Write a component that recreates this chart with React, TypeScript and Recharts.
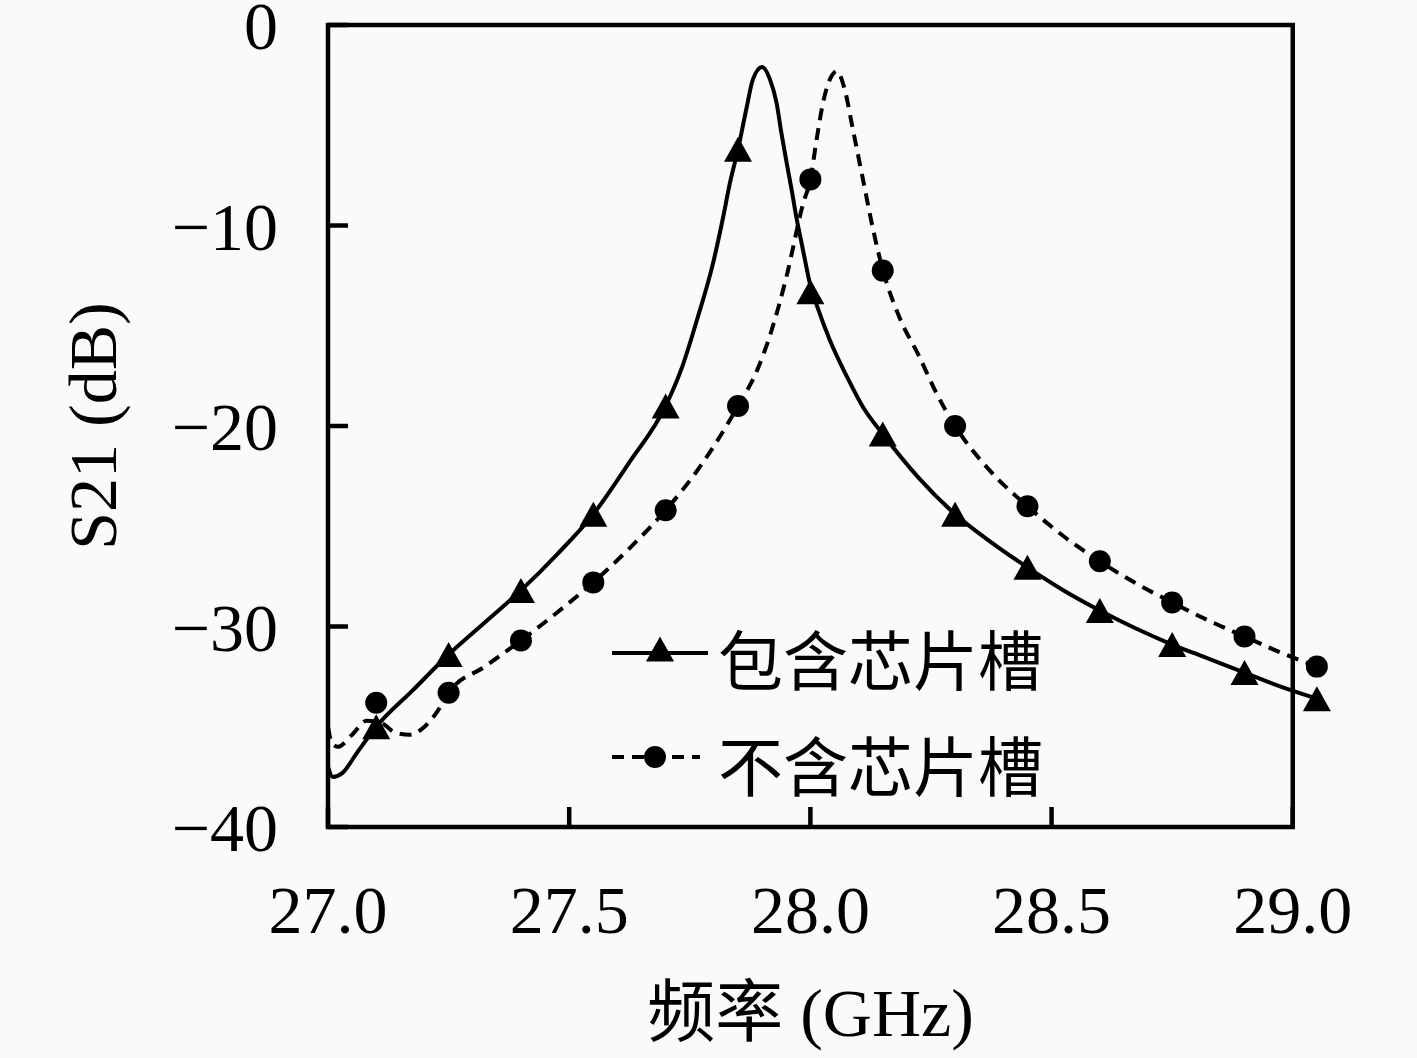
import { ComposedChart, Line, Scatter, XAxis, YAxis, ReferenceArea, Legend, Label } from 'recharts'

// frequency (GHz) / S21 (dB)
const SOLID_F = [27.0, 27.01, 27.03, 27.06, 27.1, 27.175, 27.25, 27.325, 27.4, 27.475, 27.55, 27.625, 27.7, 27.735, 27.765, 27.798, 27.819, 27.833, 27.85, 27.868, 27.881, 27.9, 27.916, 27.93, 27.94, 27.951, 27.961, 27.971, 27.982, 27.992, 28.0, 28.015, 28.04, 28.076, 28.109, 28.15, 28.225, 28.3, 28.375, 28.45, 28.525, 28.6, 28.675, 28.75, 28.825, 28.9, 28.975, 29.05]
const SOLID_V = [-37.0, -37.5, -37.3, -36.3, -35.0, -33.2, -31.4, -29.8, -28.2, -26.4, -24.4, -21.8, -19.0, -17.0, -14.7, -11.9, -9.6, -7.9, -6.2, -4.1, -2.7, -2.1, -2.7, -3.9, -5.4, -6.9, -8.2, -9.6, -10.9, -12.1, -13.0, -14.1, -15.7, -17.55, -19.05, -20.4, -22.6, -24.4, -25.8, -27.05, -28.2, -29.2, -30.1, -30.9, -31.6, -32.3, -33.0, -33.6]

const DASH_F = [27.0, 27.008, 27.02, 27.05, 27.08, 27.11, 27.14, 27.17, 27.2, 27.225, 27.25, 27.325, 27.4, 27.475, 27.55, 27.625, 27.7, 27.775, 27.85, 27.89, 27.92, 27.95, 27.985, 28.0, 28.013, 28.026, 28.045, 28.055, 28.071, 28.088, 28.109, 28.13, 28.15, 28.185, 28.225, 28.26, 28.3, 28.375, 28.45, 28.525, 28.6, 28.675, 28.75, 28.825, 28.9, 28.975, 29.05]
const DASH_V = [-35.0, -35.8, -36.0, -35.4, -34.7, -34.8, -35.3, -35.4, -35.0, -34.3, -33.3, -32.0, -30.7, -29.3, -27.8, -26.1, -24.2, -21.9, -19.0, -17.2, -15.2, -12.6, -8.9, -7.7, -5.7, -3.9, -2.5, -2.3, -3.2, -5.2, -7.7, -10.2, -12.2, -14.6, -16.5, -18.3, -20.0, -22.3, -24.0, -25.5, -26.75, -27.85, -28.8, -29.7, -30.5, -31.3, -32.0]

const MARK_F = [27.1, 27.25, 27.4, 27.55, 27.7, 27.85, 28.0, 28.15, 28.3, 28.45, 28.6, 28.75, 28.9, 29.05]
const TRI_V = [-35.0, -31.4, -28.2, -24.4, -19.0, -6.2, -13.3, -20.4, -24.4, -27.05, -29.2, -30.9, -32.3, -33.6]
const DOT_V = [-33.8, -33.3, -30.7, -27.8, -24.2, -19.0, -7.7, -12.25, -20.0, -24.0, -26.75, -28.8, -30.5, -32.0]

const X_TICKS = [27.0, 27.5, 28.0, 28.5, 29.0]
const Y_TICKS = [-40, -30, -20, -10, 0]

const SERIES_1 = '包含芯片槽'
const SERIES_2 = '不含芯片槽'

const toRows = (fs: number[], vs: number[]) => fs.map((f, i) => ({ f, v: vs[i] }))

const solidRows = toRows(SOLID_F, SOLID_V)
const dashRows = toRows(DASH_F, DASH_V)
const triRows = toRows(MARK_F, TRI_V)
const dotRows = toRows(MARK_F, DOT_V)

const SERIF = "'Liberation Serif', 'Noto Sans CJK SC', serif"
const CJK = "'Noto Sans CJK SC', sans-serif"
const DASH = '12 8'
const LW = 4

const Tri = (p: any) => (
  <polygon points={`${p.cx},${p.cy - 12.5} ${p.cx - 14},${p.cy + 12.5} ${p.cx + 14},${p.cy + 12.5}`} fill="#000" />
)
const Dot = (p: any) => <circle cx={p.cx} cy={p.cy} r={11} fill="#000" />

function LegendBox() {
  return (
    <svg width={460} height={230}>
      <line x1={12} y1={53} x2={108} y2={53} stroke="#000" strokeWidth={LW} />
      <Tri cx={60} cy={49} />
      <text x={118} y={57} fontSize={65} fontFamily={CJK} dominantBaseline="central">{SERIES_1}</text>
      <line x1={12} y1={157} x2={100} y2={157} stroke="#000" strokeWidth={LW} strokeDasharray={DASH} />
      <Dot cx={55} cy={157} />
      <text x={118} y={163} fontSize={65} fontFamily={CJK} dominantBaseline="central">{SERIES_2}</text>
    </svg>
  )
}

const fmtY = (v: number) => (v < 0 ? `\u2212${Math.abs(v)}` : `${v}`)

export default function App() {
  const tick = { fontSize: 68, fill: '#000', fontFamily: SERIF }
  return (
    <div style={{ background: '#fafafa', width: 1417, height: 1058 }}>
      <style>{'body{margin:0}'}</style>
      <ComposedChart width={1417} height={1058} margin={{ top: 25, right: 76, bottom: 0, left: 0 }}>
        <XAxis
          dataKey="f"
          type="number"
          domain={[27, 29.1]}
          ticks={X_TICKS}
          interval={0}
          tickFormatter={(v: number) => v.toFixed(1)}
          tick={tick}
          axisLine={false}
          tickLine={{ stroke: '#000', strokeWidth: 4.5 }}
          tickSize={-20}
          tickMargin={78}
          height={231}
        >
          <Label value="频率 (GHz)" position="center" dx={-24} dy={69} fontSize={68} fill="#000" fontFamily={SERIF} />
        </XAxis>
        <YAxis
          dataKey="v"
          type="number"
          domain={[-40, 0]}
          ticks={Y_TICKS}
          interval={0}
          tickFormatter={fmtY}
          tick={tick}
          axisLine={false}
          tickLine={{ stroke: '#000', strokeWidth: 4.5 }}
          tickSize={-20}
          tickMargin={70}
          width={328}
        >
          <Label value="S21 (dB)" angle={-90} position="center" dx={-72} fontSize={68} fill="#000" fontFamily={SERIF} />
        </YAxis>
        <ReferenceArea x1={27} x2={29} y1={-40} y2={0} fill="none" stroke="#000" strokeWidth={4.5} fillOpacity={0} />
        <Line data={solidRows} dataKey="v" type="monotone" stroke="#000" strokeWidth={LW} dot={false} activeDot={false} isAnimationActive={false} />
        <Line data={dashRows} dataKey="v" type="monotone" stroke="#000" strokeWidth={LW} strokeDasharray={DASH} dot={false} activeDot={false} isAnimationActive={false} />
        <Scatter data={triRows} dataKey="v" shape={Tri} isAnimationActive={false} />
        <Scatter data={dotRows} dataKey="v" shape={Dot} isAnimationActive={false} />
        <Legend
          layout="vertical"
          verticalAlign="middle"
          align="center"
          wrapperStyle={{ left: 600, top: 600, width: 460, height: 230 }}
          content={() => <LegendBox />}
        />
      </ComposedChart>
    </div>
  )
}
